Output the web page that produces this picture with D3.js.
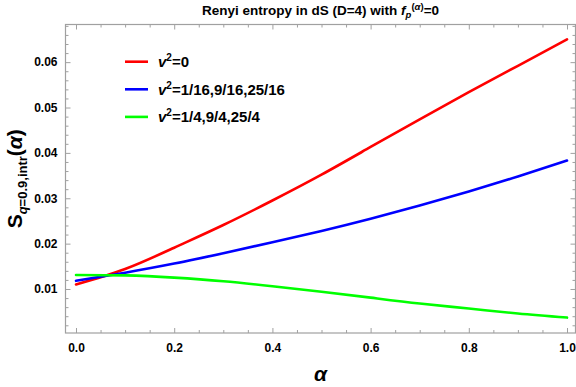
<!DOCTYPE html>
<html>
<head>
<meta charset="utf-8">
<script src="https://cdn.jsdelivr.net/npm/d3@7"></script>
<style>
  html, body { margin: 0; padding: 0; background: #fff; }
  svg { display: block; font-family: "Liberation Sans", Arial, sans-serif; }
</style>
</head>
<body>
<svg id="chart" width="576" height="387"></svg>
<script>
// Renyi entropy S_{q=0.9,intr}(alpha) in dS (D=4), three families of nu^2
const alphas = [0, 0.1, 0.2, 0.3, 0.4, 0.5, 0.6, 0.7, 0.8, 0.9, 1.0];
const redValues   = [0.0110, 0.0144, 0.0191, 0.0241, 0.0295, 0.0352, 0.0413, 0.0474, 0.0534, 0.0592, 0.0650];
const blueValues  = [0.0118, 0.0136, 0.0156, 0.0179, 0.0203, 0.0228, 0.0255, 0.0284, 0.0315, 0.0348, 0.0383];
const greenValues = [0.0131, 0.0130, 0.0125, 0.0117, 0.0106, 0.0094, 0.0081, 0.0068, 0.0057, 0.0046, 0.0037];
const seriesNames = ["=0", "=1/16,9/16,25/16", "=1/4,9/4,25/4"];
const seriesColors = ["#ff0000", "#0000ff", "#00ff00"];
const xTickValues = [0, 0.2, 0.4, 0.6, 0.8, 1.0];
const yTickValues = [0.01, 0.02, 0.03, 0.04, 0.05, 0.06];

const series = [redValues, blueValues, greenValues].map((vals, i) => ({
  name: seriesNames[i],
  color: seriesColors[i],
  points: alphas.map((a, j) => [a, vals[j]])
}));

const svg = d3.select("#chart");
const frame = { left: 65.5, right: 575.5, top: 24.5, bottom: 333 };

const x = d3.scaleLinear().domain([-0.0214, 1.0173]).range([frame.left, frame.right]);
const y = d3.scaleLinear().domain([0.0003, 0.0683]).range([frame.bottom, frame.top]);

const frameColor = "#a0a0a0";
const fmtX = d3.format(".1f");
const fmtY = d3.format(".2f");

// minor tick positions
const xMinor = d3.range(0, 1.0001, 0.05).filter(v => !xTickValues.some(t => Math.abs(t - v) < 1e-6));
const yMinor = d3.range(0.002, 0.0683, 0.002).filter(v => !yTickValues.some(t => Math.abs(t - v) < 1e-6));

function addAxis(axis, cls) {
  const g = svg.append("g").attr("class", cls);
  g.call(axis);
  g.select(".domain").remove();
  g.selectAll(".tick line").attr("stroke", frameColor).attr("stroke-width", 1);
  g.selectAll(".tick text")
    .attr("fill", "#000").attr("font-weight", "bold").attr("font-size", 12)
    .attr("font-family", "Liberation Sans, Arial, sans-serif");
  return g;
}

// bottom axis (labelled), ticks inward
addAxis(d3.axisBottom(x).tickValues(xTickValues).tickFormat(fmtX).tickSizeInner(-5).tickPadding(10), "xb")
  .attr("transform", `translate(0,${frame.bottom})`);
addAxis(d3.axisBottom(x).tickValues(xMinor).tickFormat("").tickSizeInner(-3), "xbm")
  .attr("transform", `translate(0,${frame.bottom})`);
// top axis (unlabelled)
addAxis(d3.axisTop(x).tickValues(xTickValues).tickFormat("").tickSizeInner(-5), "xt")
  .attr("transform", `translate(0,${frame.top})`);
addAxis(d3.axisTop(x).tickValues(xMinor).tickFormat("").tickSizeInner(-3), "xtm")
  .attr("transform", `translate(0,${frame.top})`);
// left axis (labelled)
addAxis(d3.axisLeft(y).tickValues(yTickValues).tickFormat(fmtY).tickSizeInner(-5).tickPadding(8), "yl")
  .attr("transform", `translate(${frame.left},0)`);
addAxis(d3.axisLeft(y).tickValues(yMinor).tickFormat("").tickSizeInner(-3), "ylm")
  .attr("transform", `translate(${frame.left},0)`);
// right axis (unlabelled)
addAxis(d3.axisRight(y).tickValues(yTickValues).tickFormat("").tickSizeInner(-5), "yr")
  .attr("transform", `translate(${frame.right},0)`);
addAxis(d3.axisRight(y).tickValues(yMinor).tickFormat("").tickSizeInner(-3), "yrm")
  .attr("transform", `translate(${frame.right},0)`);

// frame
svg.append("rect")
  .attr("x", frame.left).attr("y", frame.top)
  .attr("width", frame.right - frame.left).attr("height", frame.bottom - frame.top)
  .attr("fill", "none").attr("stroke", frameColor).attr("stroke-width", 1.2);

// curves
const line = d3.line().x(d => x(d[0])).y(d => y(d[1])).curve(d3.curveNatural);
svg.append("g").selectAll("path")
  .data(series)
  .join("path")
  .attr("d", d => line(d.points))
  .attr("fill", "none")
  .attr("stroke", d => d.color)
  .attr("stroke-width", 2.6)
  .attr("stroke-linecap", "round");

// legend
const legend = svg.append("g").attr("class", "legend");
series.forEach((s, i) => {
  const ly = 61.7 + i * 27.6;
  legend.append("line")
    .attr("x1", 125).attr("x2", 148).attr("y1", ly).attr("y2", ly)
    .attr("stroke", s.color).attr("stroke-width", 2.6);
  const t = legend.append("text")
    .attr("x", 158).attr("y", ly + 5.5)
    .attr("font-size", 15).attr("font-weight", "bold").attr("fill", "#000");
  t.append("tspan").attr("font-style", "italic").text("v");
  t.append("tspan").attr("font-size", 10).attr("dy", -6).text("2");
  t.append("tspan").attr("dy", 6).text(s.name);
});

// title
const title = svg.append("text")
  .attr("x", 320.5).attr("y", 15)
  .attr("text-anchor", "middle")
  .attr("font-size", 13.5).attr("font-weight", "bold").attr("fill", "#000");
title.append("tspan").text("Renyi entropy in dS (D=4) with ");
title.append("tspan").attr("font-style", "italic").text("f");
title.append("tspan").attr("font-style", "italic").attr("font-size", 9.5).attr("dy", 3).text("p");
title.append("tspan").attr("font-size", 9.5).attr("dy", -8).text("(");
title.append("tspan").attr("font-size", 9.5).attr("font-style", "italic").text("α");
title.append("tspan").attr("font-size", 9.5).text(")");
title.append("tspan").attr("dy", 5).text("=0");

// x axis label
svg.append("text")
  .attr("x", 320.5).attr("y", 381)
  .attr("text-anchor", "middle")
  .attr("font-size", 21).attr("font-weight", "bold").attr("font-style", "italic")
  .attr("fill", "#000").text("α");

// y axis label
const ylab = svg.append("text")
  .attr("transform", `translate(22,${(frame.top + frame.bottom) / 2}) rotate(-90)`)
  .attr("text-anchor", "middle")
  .attr("font-size", 21).attr("font-weight", "bold").attr("fill", "#000");
ylab.append("tspan").text("S");
ylab.append("tspan").attr("font-size", 13).attr("font-style", "italic").attr("dy", 5).text("q");
ylab.append("tspan").attr("font-size", 13).text("=0.9,intr");
ylab.append("tspan").attr("dy", -5).text("(");
ylab.append("tspan").attr("font-style", "italic").text("α");
ylab.append("tspan").text(")");
</script>
</body>
</html>
